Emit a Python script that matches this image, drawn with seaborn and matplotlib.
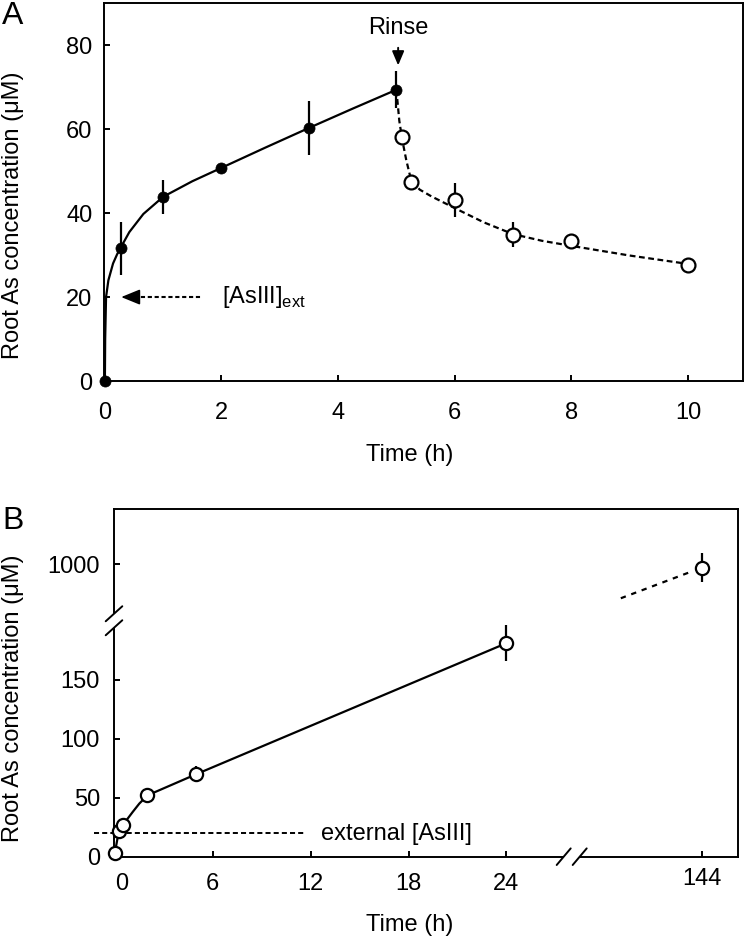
"""
Root As concentration time courses (panel A: uptake + efflux after rinse,
panel B: long-term accumulation with broken axes)
"""

import numpy as np
import matplotlib
matplotlib.use("Agg")
import matplotlib.pyplot as plt
import matplotlib.transforms as mtransforms
from matplotlib.ticker import NullLocator
import seaborn as sns

# ---- Panel A data ----
uptake_t = [0, 0.28, 1.0, 2.0, 3.5, 5.0]
uptake_y = [0, 31.6, 43.9, 50.8, 60.3, 69.4]
uptake_err = [0, 6.3, 4.0, 0, 6.4, 4.4]

efflux_t = [5.09, 5.25, 6.0, 7.0, 8.0, 10.0]
efflux_y = [58.2, 47.5, 43.1, 34.9, 33.4, 27.6]
efflux_err = [0, 0, 4.0, 3.0, 0, 0]

# fitted curves
uptake_fit_t = [0, 0.005, 0.02, 0.06, 0.14, 0.21, 0.28, 0.42, 0.66, 1.0, 1.5, 2.0, 2.75, 3.5, 4.25, 5.0]
uptake_fit_y = [0, 10, 20, 24, 28, 30.2, 32, 35.5, 39.8, 43.9, 47.6, 50.8, 55.6, 60.3, 64.9, 69.4]
efflux_fit_t = [5.0, 5.05, 5.1, 5.17, 5.25, 5.4, 5.6, 6.0, 6.5, 7.0, 7.5, 8.0, 9.0, 10.0]
efflux_fit_y = [69.4, 62.0, 57.5, 52.6, 48.0, 45.6, 44.0, 41.2, 37.8, 35.0, 33.4, 32.2, 29.9, 27.9]

ext_conc = 20  # external AsIII (uM)

# ---- Panel B data ----
long_t = [0, 0.25, 0.5, 2, 5, 24, 144]
long_y = [3, 22, 27, 52, 70, 181, 997]
long_err = [0, 0, 0, 0, 7, 15, 12]

long_fit_t = [0, 0.25, 0.5, 0.8, 1.1, 1.5, 2, 5, 24]
long_fit_y = [3, 22, 27, 32.5, 38, 45, 52, 70, 181]
extrap_t = [139, 143.4]
extrap_y = [971, 994]

# axis breaks for panel B
x_break = (28, 136)
y_break = (200, 952)

# ---- style ----
sns.set_style("ticks")
plt.rcParams['font.family'] = ['Liberation Sans', 'DejaVu Sans']
plt.rcParams['mathtext.fontset'] = 'custom'
plt.rcParams['mathtext.rm'] = 'Liberation Sans'
plt.rcParams['font.size'] = 17
plt.rcParams['text.color'] = 'black'
plt.rcParams['axes.labelcolor'] = 'black'
plt.rcParams['axes.linewidth'] = 1.4
plt.rcParams['axes.edgecolor'] = 'black'
plt.rcParams['xtick.direction'] = 'in'
plt.rcParams['ytick.direction'] = 'in'
plt.rcParams['xtick.major.size'] = 4.3
plt.rcParams['ytick.major.size'] = 4.3
plt.rcParams['xtick.major.width'] = 1.4
plt.rcParams['ytick.major.width'] = 1.4
plt.rcParams['xtick.color'] = 'black'
plt.rcParams['ytick.color'] = 'black'
plt.rcParams['xtick.labelsize'] = 17
plt.rcParams['ytick.labelsize'] = 17

W, H = 747, 941
LW = 1.6


def broken(lo, hi, eps=1e-4):
    """Piecewise linear forward/inverse functions that squeeze out (lo, hi)."""
    gap = hi - lo

    def fwd(v):
        v = np.asarray(v, dtype=float)
        return np.where(v <= lo, v,
                        np.where(v >= hi, v - gap + eps * gap, lo + (v - lo) * eps))

    def inv(u):
        u = np.asarray(u, dtype=float)
        top = lo + eps * gap
        return np.where(u <= lo, u,
                        np.where(u >= top, u + gap - eps * gap, lo + (u - lo) / eps))
    return fwd, inv


def open_points(ax, t, y, size):
    sns.scatterplot(x=t, y=y, ax=ax, s=size ** 2, color='white', edgecolor='black',
                    linewidth=LW, zorder=5, clip_on=False, legend=False)


fig = plt.figure(figsize=(W / 100, H / 100), dpi=100)

# ================= Panel A =================
axA = fig.add_axes([104.3 / W, 1 - 381 / H, (742.7 - 104.3) / W, (381 - 3.3) / H])

sns.lineplot(x=uptake_fit_t, y=uptake_fit_y, ax=axA, color='black', linewidth=LW,
             sort=False, estimator=None)
sns.lineplot(x=efflux_fit_t, y=efflux_fit_y, ax=axA, color='black', linewidth=LW,
             sort=False, estimator=None, linestyle=(0, (2.6, 1.6)))

axA.errorbar(uptake_t, uptake_y, yerr=uptake_err, fmt='none', ecolor='black',
             elinewidth=LW, capsize=0, zorder=3)
axA.errorbar(efflux_t, efflux_y, yerr=efflux_err, fmt='none', ecolor='black',
             elinewidth=LW, capsize=0, zorder=3)
sns.scatterplot(x=uptake_t, y=uptake_y, ax=axA, s=8 ** 2, color='black', edgecolor='black',
                linewidth=0.5, zorder=5, clip_on=False, legend=False)
open_points(axA, efflux_t, efflux_y, 10)

axA.set_xlim(-0.01, 10.94)
axA.set_ylim(0, 90)
axA.set_xticks([0, 2, 4, 6, 8, 10])
axA.set_yticks([0, 20, 40, 60, 80])
axA.tick_params(axis='x', pad=15)
axA.tick_params(axis='y', pad=8.6)
axA.set_xlabel('')
axA.set_ylabel('')

# Rinse arrow
axA.text(5.04, 84, 'Rinse', ha='center', va='center', fontsize=17)
axA.annotate('', xy=(5.03, 75.2), xytext=(5.03, 79.4),
             arrowprops=dict(arrowstyle='-|>,head_length=0.85,head_width=0.36',
                             color='black', lw=1.4, shrinkA=0, shrinkB=0,
                             mutation_scale=10))

# external concentration arrow
axA.plot([0.5, 1.67], [ext_conc, ext_conc], color='black', lw=1.5,
         linestyle=(0, (2.0, 1.3)))
axA.annotate('', xy=(0.28, ext_conc), xytext=(0.56, ext_conc),
             arrowprops=dict(arrowstyle='-|>,head_length=1.15,head_width=0.47',
                             color='black', lw=1.2, shrinkA=0, shrinkB=0,
                             mutation_scale=10))
axA.text(2.01, ext_conc, r'[AsIII]$_\mathregular{ext}$', ha='left', va='center', fontsize=17)

# ================= Panel B =================
axB = fig.add_axes([114 / W, 1 - 856.7 / H, (738.3 - 114) / W, (856.7 - 509.3) / H])

sns.lineplot(x=long_fit_t, y=long_fit_y, ax=axB, color='black', linewidth=LW,
             sort=False, estimator=None)
sns.lineplot(x=extrap_t, y=extrap_y, ax=axB, color='black', linewidth=LW,
             sort=False, estimator=None, linestyle=(0, (2.4, 2.6)))
axB.plot([-1.27, 11.68], [ext_conc, ext_conc], color='black', lw=1.4,
         linestyle=(0, (2.6, 1.6)), clip_on=False)

axB.errorbar(long_t, long_y, yerr=long_err, fmt='none', ecolor='black',
             elinewidth=LW, capsize=0, zorder=3)
open_points(axB, long_t, long_y, 9.5)

axB.text(12.64, ext_conc - 1, 'external [AsIII]', ha='left', va='center', fontsize=17)

# broken scales are applied after seaborn has drawn
axB.set_xscale('function', functions=broken(*x_break))
axB.set_yscale('function', functions=broken(*y_break))
axB.set_xlim(-0.05, 146.2)
axB.set_ylim(0, 1046.4)
axB.set_xticks([0, 6, 12, 18, 24, 144])
axB.set_yticks([0, 50, 100, 150, 1000])
axB.xaxis.set_minor_locator(NullLocator())
axB.yaxis.set_minor_locator(NullLocator())
axB.tick_params(axis='x', pad=12)
axB.tick_params(axis='y', pad=10)
axB.set_xlabel('')
axB.set_ylabel('')

# nudge a couple of tick labels like the original
xlabels = axB.get_xticklabels()
xlabels[0].set_transform(xlabels[0].get_transform() +
                         mtransforms.ScaledTranslation(7 / 100, 0, fig.dpi_scale_trans))
xlabels[-1].set_transform(xlabels[-1].get_transform() +
                          mtransforms.ScaledTranslation(0, 5 / 100, fig.dpi_scale_trans))

# break marks (drawn in axes fraction, sized in pixels)
bw, bh = 738.3 - 114, 856.7 - 509.3
fy, _ = broken(*y_break)
yb = float((fy(y_break[0]) - fy(0)) / (fy(1046.4) - fy(0)))
fx, _ = broken(*x_break)
xb = float((fx(x_break[0]) - fx(-0.05)) / (fx(146.2) - fx(-0.05)))

# y-axis break
axB.plot([0, 0], [yb - 7 / bh, yb + 7 / bh], transform=axB.transAxes, color='white',
         lw=3, clip_on=False, zorder=6, solid_capstyle='butt')
for off in (7, -7):
    yc = yb + off / bh
    axB.plot([-8.3 / bw, 8.3 / bw], [yc - 7.5 / bh, yc + 7.5 / bh], transform=axB.transAxes,
             color='black', lw=1.4, clip_on=False, zorder=7)
# x-axis break
axB.plot([xb - 8 / bw, xb + 8 / bw], [0, 0], transform=axB.transAxes, color='white',
         lw=3, clip_on=False, zorder=6, solid_capstyle='butt')
for off in (-8, 8):
    xc = xb + off / bw
    axB.plot([xc - 7 / bw, xc + 7 / bw], [-8.3 / bh, 8.3 / bh], transform=axB.transAxes,
             color='black', lw=1.4, clip_on=False, zorder=7)

# ---- figure-level labels ----
fig.text(2 / W, 1 - 16.5 / H, 'A', fontsize=23, ha='left', va='center')
fig.text(2 / W, 1 - 521 / H, 'B', fontsize=23, ha='left', va='center')
fig.text(13 / W, 1 - 215 / H, 'Root As concentration (μM)', rotation=90,
         ha='center', va='center', fontsize=17)
fig.text(13 / W, 1 - 698 / H, 'Root As concentration (μM)', rotation=90,
         ha='center', va='center', fontsize=17)
fig.text(410 / W, 1 - 444 / H, 'Time (h)', ha='center', va='top', fontsize=17)
fig.text(410 / W, 1 - 914 / H, 'Time (h)', ha='center', va='top', fontsize=17)

fig.savefig('out.png', dpi=100)
print("[OK] Saved: out.png")
